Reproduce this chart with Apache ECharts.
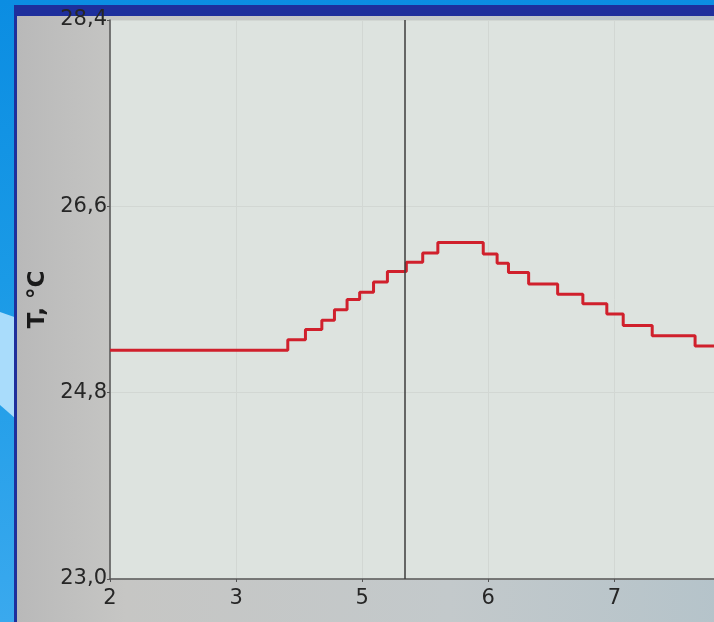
<!DOCTYPE html>
<html>
<head>
<meta charset="utf-8">
<script src="https://cdn.jsdelivr.net/npm/echarts@6/dist/echarts.min.js"></script>
<style>
  html, body { margin: 0; padding: 0; }
  body {
    width: 714px; height: 622px; overflow: hidden;
    background: linear-gradient(180deg, #0b8de2 0%, #1a9ae6 45%, #3aa9ee 100%);
  }
  #chart { width: 714px; height: 622px; }
</style>
</head>
<body>
<div id="chart"></div>
<script>
// step starts (x in axis units, 2..7) and temperatures
var stepX = [2.0, 3.41, 3.55, 3.68, 3.78, 3.88, 3.98, 4.09, 4.20, 4.35, 4.48, 4.60,
             4.96, 5.07, 5.16, 5.32, 5.55, 5.75, 5.94, 6.07, 6.30, 6.64, 6.79];
var tempC = [25.21, 25.31, 25.41, 25.50, 25.60, 25.70, 25.77, 25.87, 25.97, 26.06, 26.15, 26.25,
             26.14, 26.05, 25.96, 25.85, 25.75, 25.66, 25.56, 25.45, 25.35, 25.25, 25.25];
var xTickLabels = ['2', '3', '5', '6', '7'];
var yBase = 23.0;
var cursorX = 4.34;

var chart = echarts.init(document.getElementById('chart'));

var points = stepX.map(function (x, i) { return [x, tempC[i] - yBase]; });

var font = '"DejaVu Sans", Verdana, sans-serif';

var option = {
  backgroundColor: 'transparent',
  animation: false,
  graphic: [
    // light swoosh of the slide behind the screen
    { type: 'polygon', z: -20, shape: { points: [[0, 312], [40, 326], [40, 440], [0, 405]] },
      style: { fill: '#a9dcfb' } },
    // window frame
    { type: 'rect', z: -10, shape: { x: 14, y: 5, width: 720, height: 640 },
      style: { fill: '#1e2f9c' } },
    { type: 'rect', z: -9, shape: { x: 17, y: 16, width: 720, height: 640 },
      style: { fill: new echarts.graphic.LinearGradient(0, 0, 1, 0, [
        { offset: 0, color: '#b9b9b9' }, { offset: 0.15, color: '#c6c6c4' },
        { offset: 0.6, color: '#c3c9cb' }, { offset: 1, color: '#b4c3ca' }]) } }
  ],
  grid: {
    left: 110, right: 0, top: 20, bottom: 43,
    show: true, backgroundColor: '#dde3df', borderWidth: 0
  },
  xAxis: {
    type: 'value', min: 2, max: 6.79, interval: 1,
    axisLine: { lineStyle: { color: '#555', width: 1.5 } },
    axisTick: { show: true, length: 3, lineStyle: { color: '#555' } },
    splitLine: { show: true, lineStyle: { color: '#d2d7d3', width: 1 } },
    axisLabel: {
      color: '#262626', fontSize: 21, fontFamily: font, margin: 9,
      showMaxLabel: false,
      formatter: function (v) {
        var i = Math.round(v - 2);
        return Math.abs(v - 2 - i) < 1e-6 ? (xTickLabels[i] || '') : '';
      }
    }
  },
  yAxis: {
    type: 'value', min: 0, max: 5.4, interval: 1.8,
    name: 'T, °C', nameLocation: 'middle', nameGap: 56, nameRotate: 90,
    nameTextStyle: { color: '#1a1a1a', fontSize: 23, fontWeight: 'bold', fontFamily: font },
    axisLine: { show: true, lineStyle: { color: '#555', width: 1.5 } },
    axisTick: { show: true, length: 3, lineStyle: { color: '#555' } },
    splitLine: { show: true, lineStyle: { color: '#d2d7d3', width: 1 } },
    axisLabel: {
      color: '#262626', fontSize: 21, fontFamily: font, margin: 3,
      formatter: function (v) { return (v + yBase).toFixed(1).replace('.', ','); }
    }
  },
  series: [{
    type: 'line',
    step: 'end',
    data: points,
    symbol: 'none',
    lineStyle: { color: '#d0202c', width: 3 },
    markLine: {
      silent: true, symbol: 'none', label: { show: false },
      lineStyle: { color: '#3c3c3c', width: 1.5, type: 'solid' },
      data: [{ xAxis: cursorX }]
    }
  }]
};

chart.setOption(option);
</script>
</body>
</html>
